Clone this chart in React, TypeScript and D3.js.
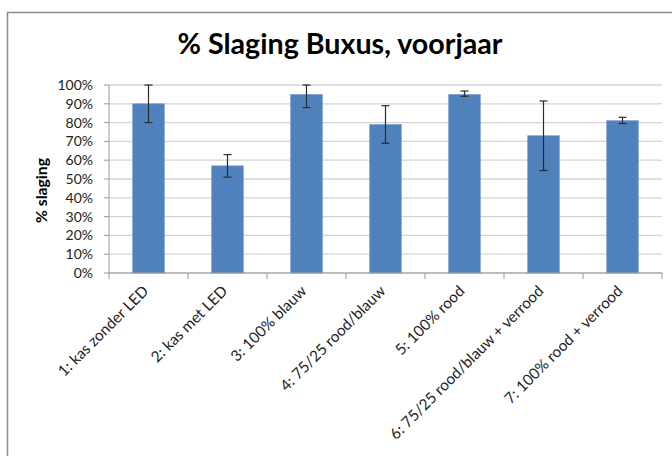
import React from "react";
import * as d3 from "d3";

const categories = [
  "1: kas zonder LED",
  "2: kas met LED",
  "3: 100% blauw",
  "4: 75/25 rood/blauw",
  "5: 100% rood",
  "6: 75/25 rood/blauw + verrood",
  "7: 100% rood + verrood",
];
const values = [0.9, 0.57, 0.95, 0.79, 0.95, 0.73, 0.81];
const errLow = [0.8, 0.51, 0.88, 0.69, 0.94, 0.545, 0.795];
const errHigh = [1.0, 0.63, 1.0, 0.89, 0.968, 0.915, 0.828];
const yTicks = [0, 0.1, 0.2, 0.3, 0.4, 0.5, 0.6, 0.7, 0.8, 0.9, 1.0];
const title = "% Slaging Buxus, voorjaar";
const yTitle = "% slaging";

export default function App() {
  const W = 672, H = 456;
  const left = 109, right = 662, top = 85, bottom = 273;
  const x = d3.scaleBand<string>().domain(categories).range([left, right]).paddingInner(0).paddingOuter(0);
  const y = d3.scaleLinear().domain([0, 1]).range([bottom, top]);
  const bw = x.bandwidth() * 0.4;
  const font = "Lato, 'Noto Sans', sans-serif";
  return (
    <svg width={W} height={H} style={{ position: "absolute", left: 0, top: 0, background: "#fff" }} fontFamily={font}>
      <rect x={0} y={0} width={W} height={H} fill="#fff" />
      {/* outer frame */}
      <path d={`M7.5,${H + 2} V12.5 H${W + 2}`} fill="none" stroke="#8c8c8c" strokeWidth={1.5} />
      <text x={340} y={53.5} textAnchor="middle" fontSize={28} fontWeight="bold" fill="#000" textLength={325} lengthAdjust="spacingAndGlyphs">{title}</text>
      {/* gridlines */}
      {yTicks.map((t) => (
        <line key={t} x1={left} x2={right} y1={y(t)} y2={y(t)} stroke="#d4d4d4" strokeWidth={1.3} />
      ))}
      {/* y axis */}
      <line x1={left} x2={left} y1={top} y2={bottom} stroke="#9a9a9a" strokeWidth={1} />
      {yTicks.map((t) => (
        <g key={"yt" + t}>
          <line x1={left - 5} x2={left} y1={y(t)} y2={y(t)} stroke="#9a9a9a" />
          <text x={93} y={y(t)} dy="0.36em" textAnchor="end" fontSize={14} fill="#222">{d3.format(".0%")(t)}</text>
        </g>
      ))}
      <text transform={`translate(47,${190.5}) rotate(-90)`} textAnchor="middle" fontSize={15} fontWeight="bold" fill="#000" textLength={65} lengthAdjust="spacingAndGlyphs">{yTitle}</text>
      {/* bars */}
      {categories.map((c, i) => {
        const cx = (x(c) as number) + x.bandwidth() / 2;
        return (
          <g key={c}>
            <rect x={cx - bw / 2} y={y(values[i])} width={bw} height={bottom - y(values[i])} fill="#4f81bd" stroke="#7ba0d0" strokeWidth={0.8} />
            <line x1={cx} x2={cx} y1={y(errHigh[i])} y2={y(errLow[i])} stroke="#2b2b2b" strokeWidth={1.2} />
            <line x1={cx - 4} x2={cx + 4} y1={y(errHigh[i])} y2={y(errHigh[i])} stroke="#2b2b2b" strokeWidth={1.2} />
            <line x1={cx - 4} x2={cx + 4} y1={y(errLow[i])} y2={y(errLow[i])} stroke="#2b2b2b" strokeWidth={1.2} />
          </g>
        );
      })}
      {/* x axis */}
      <line x1={left} x2={right} y1={bottom} y2={bottom} stroke="#9a9a9a" strokeWidth={1.2} />
      {categories.map((c) => (
        <line key={"xt" + c} x1={x(c) as number} x2={x(c) as number} y1={bottom} y2={bottom + 6} stroke="#9a9a9a" />
      ))}
      <line x1={right} x2={right} y1={bottom} y2={bottom + 6} stroke="#9a9a9a" />
      {categories.map((c) => {
        const cx = (x(c) as number) + x.bandwidth() / 2;
        return (
          <text key={"xl" + c} transform={`translate(${cx + 1},${bottom + 19}) rotate(-45)`} textAnchor="end" fontSize={15.3} fill="#222">{c}</text>
        );
      })}
    </svg>
  );
}
